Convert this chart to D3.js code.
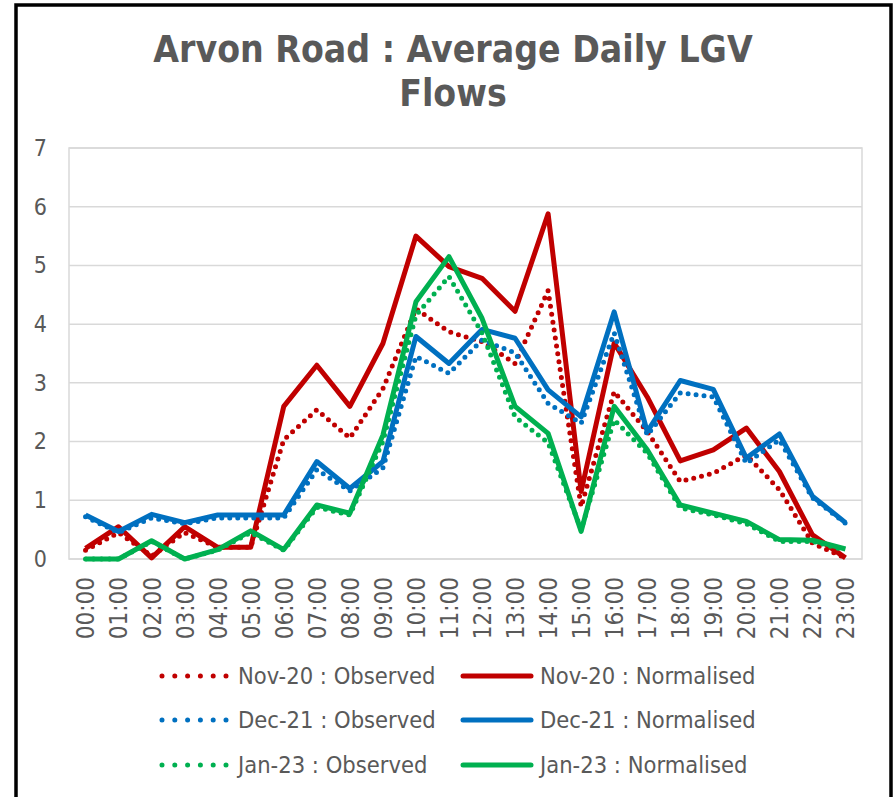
<!DOCTYPE html>
<html>
<head>
<meta charset="utf-8">
<script src="https://cdn.jsdelivr.net/npm/d3@7"></script>
<style>
  body { margin: 0; background: #fff; }
  text { font-family: "DejaVu Sans Condensed", "DejaVu Sans", sans-serif; font-stretch: condensed; }
</style>
</head>
<body>
<div id="chart"></div>
<script>
// hours on the x axis
const hours = ["00:00","01:00","02:00","03:00","04:00","05:00","06:00","07:00","08:00","09:00","10:00","11:00",
               "12:00","13:00","14:00","15:00","16:00","17:00","18:00","19:00","20:00","21:00","22:00","23:00"];
const yTicks = [0, 1, 2, 3, 4, 5, 6, 7];

// values
const nov20Observed   = [0.15,0.45,0.05,0.45,0.2,0.2,2.03,2.54,2.06,2.9,4.26,3.87,3.7,3.33,4.57,0.89,2.85,2.17,1.32,1.46,1.77,1.18,0.27,0.02];
const nov20Normalised = [0.18,0.55,0.02,0.55,0.2,0.2,2.6,3.3,2.6,3.67,5.5,4.98,4.78,4.22,5.88,1.15,3.68,2.76,1.67,1.86,2.23,1.49,0.41,0.02];
const dec21Observed   = [0.72,0.45,0.7,0.6,0.7,0.7,0.7,1.52,1.16,1.55,3.45,3.16,3.73,3.51,2.65,2.31,3.85,2.11,2.83,2.76,1.63,2.03,1.04,0.61];
const dec21Normalised = [0.75,0.47,0.76,0.62,0.75,0.75,0.75,1.66,1.2,1.66,3.79,3.33,3.91,3.76,2.88,2.42,4.21,2.17,3.04,2.89,1.72,2.13,1.07,0.62];
const jan23Observed   = [0.0,0.0,0.3,0.0,0.15,0.45,0.15,0.88,0.75,2.0,4.15,4.81,3.85,2.42,1.98,0.5,2.37,1.8,0.87,0.75,0.6,0.3,0.3,0.15];
const jan23Normalised = [0.0,0.0,0.31,0.0,0.16,0.48,0.16,0.92,0.78,2.11,4.38,5.15,4.1,2.6,2.14,0.47,2.6,1.86,0.92,0.78,0.64,0.33,0.32,0.17];

const series = [
    { name: "Nov-20 : Observed",   values: nov20Observed,   color: "#c00000", dotted: true },
    { name: "Nov-20 : Normalised", values: nov20Normalised, color: "#c00000", dotted: false },
    { name: "Dec-21 : Observed",   values: dec21Observed,   color: "#0070c0", dotted: true },
    { name: "Dec-21 : Normalised", values: dec21Normalised, color: "#0070c0", dotted: false },
    { name: "Jan-23 : Observed",   values: jan23Observed,   color: "#00b050", dotted: true },
    { name: "Jan-23 : Normalised", values: jan23Normalised, color: "#00b050", dotted: false }
];

const W = 896, H = 797;
const plot = { left: 69, right: 862, top: 148, bottom: 559 };

const svg = d3.select("#chart").append("svg")
    .attr("width", W)
    .attr("height", H);

// outer frame
svg.append("path")
    .attr("d", `M16,${H + 5} L16,5 L891,5 L891,${H + 5}`)
    .attr("fill", "none")
    .attr("stroke", "#000")
    .attr("stroke-width", 3.5);

// title
const title = svg.append("text")
    .attr("x", 453)
    .attr("text-anchor", "middle")
    .attr("fill", "#595959")
    .attr("font-size", 37)
    .attr("font-weight", "bold");
title.append("tspan").attr("x", 453).attr("y", 62).text("Arvon Road : Average Daily LGV");
title.append("tspan").attr("x", 453).attr("y", 106).text("Flows");

const x = d3.scalePoint()
    .domain(hours)
    .range([plot.left, plot.right])
    .padding(0.5);

const y = d3.scaleLinear()
    .domain([0, 7])
    .range([plot.bottom, plot.top]);

// gridlines
svg.append("g")
    .selectAll("line")
    .data(yTicks)
    .join("line")
    .attr("x1", plot.left)
    .attr("x2", plot.right)
    .attr("y1", d => y(d))
    .attr("y2", d => y(d))
    .attr("stroke", "#d9d9d9")
    .attr("stroke-width", 1.5);

// plot area border
svg.append("rect")
    .attr("x", plot.left)
    .attr("y", plot.top)
    .attr("width", plot.right - plot.left)
    .attr("height", plot.bottom - plot.top)
    .attr("fill", "none")
    .attr("stroke", "#d9d9d9")
    .attr("stroke-width", 1.5);

// y axis labels
const yAxis = d3.axisLeft(y).tickValues(yTicks).tickFormat(d3.format("d")).tickSize(0).tickPadding(0);
const gy = svg.append("g")
    .attr("transform", `translate(${plot.left - 22},0)`)
    .call(yAxis);
gy.select(".domain").remove();
gy.selectAll("text")
    .attr("fill", "#595959")
    .attr("font-size", 23)
    .attr("font-family", null);

// x axis labels, rotated
const xAxis = d3.axisBottom(x).tickSize(0).tickPadding(0);
const gx = svg.append("g")
    .attr("transform", `translate(0,${plot.bottom})`)
    .call(xAxis);
gx.select(".domain").remove();
gx.selectAll("text")
    .attr("fill", "#595959")
    .attr("font-size", 24)
    .attr("font-family", null)
    .attr("text-anchor", "end")
    .attr("dy", "0.35em")
    .attr("transform", "translate(0,18) rotate(-90)");

// lines
const line = d3.line()
    .x((d, i) => x(hours[i]))
    .y(d => y(d));

svg.append("g")
    .selectAll("path")
    .data(series)
    .join("path")
    .attr("d", d => line(d.values))
    .attr("fill", "none")
    .attr("stroke", d => d.color)
    .attr("stroke-width", 5)
    .attr("stroke-linejoin", "round")
    .attr("stroke-linecap", d => d.dotted ? "round" : "butt")
    .attr("stroke-dasharray", d => d.dotted ? "0,8" : null);

// legend
const legendCols = [160, 463];
const legendRows = [676, 720, 765];
const legend = svg.append("g");
series.forEach((s, i) => {
    const lx = legendCols[i % 2];
    const ly = legendRows[Math.floor(i / 2)];
    legend.append("line")
        .attr("x1", lx + (s.dotted ? 2 : 0))
        .attr("x2", lx + 68)
        .attr("y1", ly)
        .attr("y2", ly)
        .attr("stroke", s.color)
        .attr("stroke-width", 5)
        .attr("stroke-linecap", "round")
        .attr("stroke-dasharray", s.dotted ? "0,12.8" : null);
    legend.append("text")
        .attr("x", lx + (s.dotted ? 78 : 77))
        .attr("y", ly)
        .attr("dy", "0.35em")
        .attr("fill", "#595959")
        .attr("font-size", 23.5)
        .text(s.name);
});
</script>
</body>
</html>
